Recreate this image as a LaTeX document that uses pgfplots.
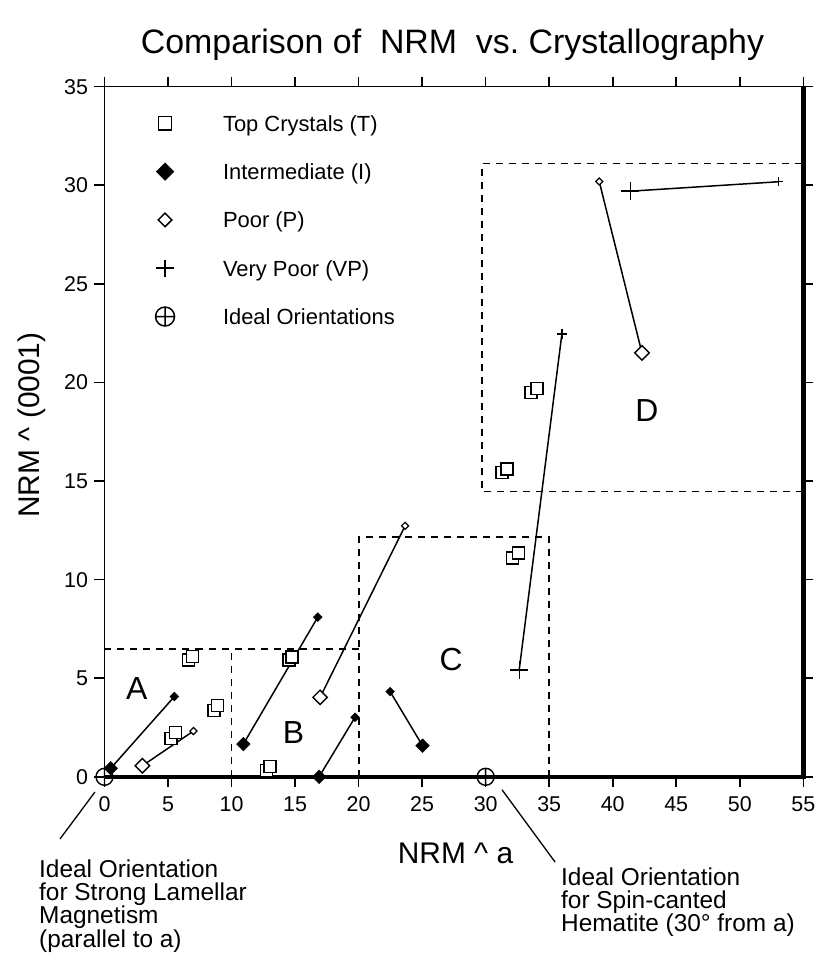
\documentclass[border=0pt]{standalone}
\usepackage{fontspec}
\setmainfont{Liberation Sans}
\usepackage{pgfplots}
\pgfplotsset{compat=1.18}

\tikzset{
  note/.style={font=\fontsize{24.5}{23.3}\selectfont, align=left, inner sep=0pt, anchor=north west},
  region/.style={font=\fontsize{32}{36}\selectfont, inner sep=0pt},
}

\begin{document}
\begin{tikzpicture}
\begin{axis}[
  width=698.8bp, height=690.1bp, scale only axis,
  xmin=0, xmax=55, ymin=0, ymax=35,
  xtick={0,5,...,55}, ytick={0,5,...,35},
  tick align=outside, major tick length=10bp,
  tick style={black, line width=1.6bp},
  axis line style={line width=1.6bp},
  tick label style={font=\fontsize{21.5}{24}\selectfont},
  xticklabel style={yshift=-6bp},
  yticklabel style={xshift=-3bp},
  /pgf/number format/assume math mode=true,
  clip=false,
  legend cell align=left,
  legend image code/.code={\path[draw=none, fill=none] (-12bp,-2bp) rectangle (12bp,18bp); \draw[#1] plot coordinates {(0bp,8bp)};},
  legend style={draw=none, fill=none, inner sep=0pt, outer sep=0pt,
    at={(axis cs:3.82,33.65)}, anchor=north west,
    font=\fontsize{22}{26}\selectfont,
    row sep=25.3bp, column sep=46bp,
    nodes={inner sep=0pt, text height=16bp, text depth=5bp},
    cells={anchor=base west}},
]
% heavy bottom and right frame
\draw[line width=4.5bp] (rel axis cs:0,0) -- (rel axis cs:1,0) -- (rel axis cs:1,1);

% legend
\addlegendimage{only marks, mark=square*, mark size=6.6bp, mark options={fill=white, draw=black, line width=1.5bp}}
\addlegendentry{Top Crystals (T)}
\addlegendimage{only marks, mark=square*, mark size=6.2bp, mark options={rotate=45, fill=black, draw=black, line width=0.5bp}}
\addlegendentry{Intermediate (I)}
\addlegendimage{only marks, mark=square*, mark size=4.8bp, mark options={rotate=45, fill=white, draw=black, line width=1.5bp}}
\addlegendentry{Poor (P)}
\addlegendimage{only marks, mark=+, mark size=8.6bp, mark options={draw=black, line width=1.5bp}}
\addlegendentry{Very Poor (VP)}
\addlegendimage{only marks, mark=oplus, mark size=9.5bp, mark options={draw=black, line width=1.5bp}}
\addlegendentry{Ideal Orientations}

% region boxes
\pgfplotsset{box/.style={black, line width=1.8bp, dash pattern=on 7bp off 6bp, no marks, forget plot}}
\addplot[box] coordinates {(0,6.49) (20,6.49)};
\addplot[box] coordinates {(10,0) (10,6.49)};
\addplot[box] coordinates {(20,0) (20,12.16) (35,12.16) (35,0)};
\addplot[box] coordinates {(55,14.47) (29.7,14.47) (29.7,31.1) (55,31.1)};

% connecting segments
\pgfplotsset{seg/.style={black, line width=1.5bp, no marks, forget plot}}
\addplot[seg] coordinates {(0.49,0.43) (5.5,4.07)};
\addplot[seg] coordinates {(10.93,1.66) (16.79,8.10)};
\addplot[seg] coordinates {(16.89,0) (19.72,3.02)};
\addplot[seg] coordinates {(25.03,1.58) (22.48,4.32)};
\addplot[seg] coordinates {(2.98,0.56) (7.0,2.32)};
\addplot[seg] coordinates {(16.97,4.03) (23.66,12.73)};
\addplot[seg] coordinates {(42.3,21.5) (38.94,30.19)};
\addplot[seg] coordinates {(32.64,5.42) (36.0,22.46)};
\addplot[seg] coordinates {(41.38,29.7) (53.06,30.18)};

% top crystals
\addplot[only marks, forget plot, mark=square*, mark size=6bp, mark options={fill=white, draw=black, line width=1.4bp}]
  coordinates {(5.24,1.95) (5.60,2.24) (8.62,3.36) (8.91,3.61) (6.60,5.93) (6.91,6.10)
    (12.77,0.31) (13.03,0.51) (14.53,5.93) (14.76,6.07) (32.10,11.09) (32.58,11.35)
    (31.30,15.42) (31.67,15.62) (33.56,19.50) (34.03,19.68)};
% intermediate
\addplot[only marks, forget plot, mark=square*, mark size=4.8bp, mark options={rotate=45, fill=black, draw=black, line width=0.5bp}]
  coordinates {(0.49,0.43) (10.93,1.66) (16.89,0) (25.03,1.58)};
\addplot[only marks, forget plot, mark=square*, mark size=3.1bp, mark options={rotate=45, fill=black, draw=black, line width=0.5bp}]
  coordinates {(5.5,4.07) (16.79,8.10) (19.72,3.02) (22.48,4.32)};
% poor
\addplot[only marks, forget plot, mark=square*, mark size=5.1bp, mark options={rotate=45, fill=white, draw=black, line width=1.4bp}]
  coordinates {(2.98,0.56) (16.97,4.03) (42.3,21.5)};
\addplot[only marks, forget plot, mark=square*, mark size=2.5bp, mark options={rotate=45, fill=white, draw=black, line width=1.2bp}]
  coordinates {(7.0,2.32) (23.66,12.73) (38.94,30.19)};
% very poor
\addplot[only marks, forget plot, mark=+, mark size=9bp, mark options={draw=black, line width=1.4bp}]
  coordinates {(32.64,5.42) (41.38,29.7)};
\addplot[only marks, forget plot, mark=+, mark size=4.7bp, mark options={draw=black, line width=1.3bp}]
  coordinates {(36.0,22.46) (53.06,30.18)};
% ideal orientations
\addplot[only marks, forget plot, mark=oplus, mark size=8.5bp, mark options={fill=white, draw=black, line width=1.4bp}]
  coordinates {(0,0) (30,0)};

% region letters
\node[region] at (axis cs:2.53,4.49) {A};
\node[region] at (axis cs:14.87,2.24) {B};
\node[region] at (axis cs:27.28,5.93) {C};
\node[region] at (axis cs:42.69,18.58) {D};

% titles and labels
\node[anchor=base, inner sep=0pt, font=\fontsize{34}{40}\selectfont] at (axis cs:27.39,36.66)
  {Comparison of\ \ NRM\ \ vs.\ Crystallography};
\node[anchor=base, inner sep=0pt, font=\fontsize{30}{36}\selectfont] at (axis cs:27.63,-4.42)
  {NRM \textasciicircum\ a};
\node[anchor=base, rotate=90, inner sep=0pt, font=\fontsize{30}{36}\selectfont] at (axis cs:-5.1,17.84)
  {NRM \textasciicircum\ (0001)};

% annotations
\draw[line width=1.3bp] (axis cs:-0.75,-0.77) -- (axis cs:-3.50,-3.15);
\draw[line width=1.3bp] (axis cs:31.29,-0.66) -- (axis cs:35.46,-4.32);
\node[note] at (axis cs:-5.155,-4.2) {Ideal Orientation\\for Strong Lamellar\\Magnetism\\(parallel to a)};
\node[note] at (axis cs:35.93,-4.6) {Ideal Orientation\\for Spin-canted\\Hematite (30° from a)};

\coordinate (ll) at (rel axis cs:0,0);
\coordinate (ur) at (rel axis cs:1,1);
\end{axis}
\pgfresetboundingbox
\path ([shift={(-104.5bp,-177.2bp)}]ll) rectangle ([shift={(11.7bp,86.7bp)}]ur);
\end{tikzpicture}
\end{document}
